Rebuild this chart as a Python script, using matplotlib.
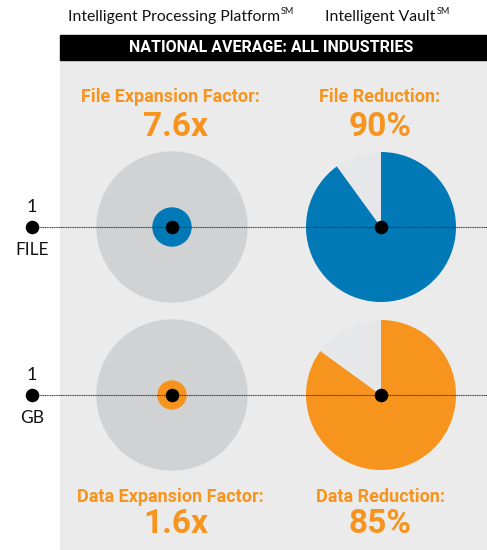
import matplotlib.pyplot as plt
from matplotlib.patches import Rectangle, Circle

# data
platforms = ["Intelligent Processing Platform", "Intelligent Vault"]
header = "NATIONAL AVERAGE: ALL INDUSTRIES"
units = ["FILE", "GB"]
factor_labels = ["File Expansion Factor:", "Data Expansion Factor:"]
factors = [7.6, 1.6]
reduction_labels = ["File Reduction:", "Data Reduction:"]
reductions = [90, 85]

BLUE = "#0079b6"
ORANGE = "#f7941d"
row_colors = [BLUE, ORANGE]
W, H = 487, 550


def main():
    fig = plt.figure(figsize=(W / 100, H / 100), dpi=100)
    ax = fig.add_axes([0, 0, 1, 1])

    def Y(y):
        # pixel row (top down) -> data y
        return H - y

    # panel + header bar
    ax.add_patch(Rectangle((60, 0), W - 60, Y(60), color="#ebebeb", zorder=0))
    ax.add_patch(Rectangle((60, Y(60)), W - 60, 25, color="black", zorder=1))
    ax.text(271, Y(48), header, color="white", fontsize=11.5, fontweight="bold",
            family="Roboto", ha="center", va="center", zorder=2)

    rows_y = [227, 395]
    inner_r = [19, 14]
    for i in range(2):
        cy = Y(rows_y[i])
        c = row_colors[i]
        # left: expansion circle
        ax.add_patch(Circle((172, cy), 75, color="#d1d2d4", zorder=2))
        ax.add_patch(Circle((172, cy), inner_r[i], color=c, zorder=3))
        # right: reduction pie
        ax.pie([reductions[i], 100 - reductions[i]], colors=[c, "#e6e7e8"],
               startangle=90, counterclock=False, center=(381, cy), radius=75,
               wedgeprops=dict(linewidth=0, zorder=2))
        # guide line and dots
        ax.plot([32, W], [cy, cy], color="#333333", linestyle=(0, (1, 0.6)),
                linewidth=0.8, zorder=4)
        ax.scatter([32, 172, 381], [cy] * 3, s=95, color="black", zorder=5,
                   linewidths=0)
        ax.text(32, cy + 20, "1", fontsize=13, family="Lato", ha="center",
                va="center", color="#111111")
        ax.text(32, cy - 23, units[i], fontsize=12.5, family="Lato", ha="center",
                va="center", color="#111111")

    # orange labels
    label_y = [(97, 127), (497, 524)]
    for i in range(2):
        ly, vy = label_y[i]
        ax.text(170, Y(ly), factor_labels[i], color=ORANGE, fontsize=13,
                fontweight="bold", family="Roboto", ha="center", va="center")
        ax.text(176, Y(vy), f"{factors[i]}x", color=ORANGE, fontsize=24,
                fontweight="bold", family="Roboto", ha="center", va="center")
        ax.text(380, Y(ly), reduction_labels[i], color=ORANGE, fontsize=13,
                fontweight="bold", family="Roboto", ha="center", va="center")
        ax.text(380, Y(vy), f"{reductions[i]}%", color=ORANGE, fontsize=24,
                fontweight="bold", family="Roboto", ha="center", va="center")

    ax.set_xlim(0, W)
    ax.set_ylim(0, H)
    ax.set_aspect("auto")
    ax.axis("off")

    # top column titles with SM superscript (placed after limits are fixed)
    fig.canvas.draw()
    r = fig.canvas.get_renderer()
    for name, x in zip(platforms, [68, 325]):
        t = ax.text(x, Y(17), name, fontsize=11.3, family="Lato", color="#111111",
                    ha="left", va="center")
        bb = t.get_window_extent(renderer=r)
        x_end = ax.transData.inverted().transform((bb.x1, bb.y1))[0]
        ax.text(x_end + 1, Y(12), "SM", fontsize=6.5, family="Lato", color="#111111",
                ha="left", va="center")

    fig.savefig("out.png", dpi=100, facecolor="white")


if __name__ == "__main__":
    main()
